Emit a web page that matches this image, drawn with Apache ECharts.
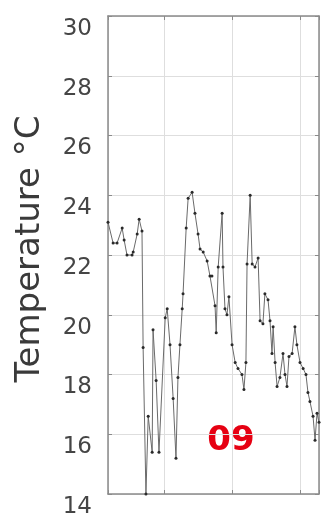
<!DOCTYPE html>
<html>
<head>
<meta charset="utf-8">
<script src="https://cdn.jsdelivr.net/npm/echarts@6/dist/echarts.min.js"></script>
<style>
html,body{margin:0;padding:0;background:#fff;}
#chart{width:333px;height:520px;}
</style>
</head>
<body>
<div id="chart"></div>
<script>
// Hours since 2009-09-01 00:00 (local) for each reading
const hours = [4.2, 6.0, 7.4, 9.2, 9.9, 10.9, 12.7, 13.1, 14.5, 15.2, 16.2, 16.6, 17.6, 18.4, 19.8, 20.1, 21.2, 22.2,
  24.4, 25.1, 26.1, 27.2, 28.2, 28.9, 29.6, 30.4, 30.7, 31.8, 32.5, 33.9, 34.9, 36.0, 36.7, 37.8, 39.2, 40.2, 40.9,
  42.0, 42.4, 43.1, 44.5, 44.8, 45.5, 46.2, 46.9, 48.0, 49.1, 50.1, 51.5, 52.2, 52.9, 53.3, 54.4, 55.1, 56.1, 57.2,
  57.9, 58.9, 59.6, 60.7, 61.4, 62.1, 62.5, 63.2, 63.9, 64.9, 66.0, 66.7, 67.4, 68.1, 69.2, 70.2, 70.9, 72.0, 73.1,
  74.1, 74.8, 75.5, 76.6, 77.3, 78.0, 78.7];
const temps = [23.1, 22.4, 22.4, 22.9, 22.5, 22.0, 22.0, 22.1, 22.7, 23.2, 22.8, 18.9, 14.0, 16.6, 15.4, 19.5, 17.8, 15.4,
  19.9, 20.2, 19.0, 17.2, 15.2, 17.9, 19.0, 20.2, 20.7, 22.9, 23.9, 24.1, 23.4, 22.7, 22.2, 22.1, 21.8, 21.3, 21.3,
  20.3, 19.4, 21.6, 23.4, 21.6, 20.2, 20.0, 20.6, 19.0, 18.4, 18.2, 18.0, 17.5, 18.4, 21.7, 24.0, 21.7, 21.6, 21.9,
  19.8, 19.7, 20.7, 20.5, 19.8, 18.7, 19.6, 18.4, 17.6, 17.9, 18.7, 18.0, 17.6, 18.6, 18.7, 19.6, 19.0, 18.4, 18.2,
  18.0, 17.4, 17.1, 16.6, 15.8, 16.7, 16.4];
const startDate = '2009-09-01T00:00:00';
const xRangeHours = [4.2, 78.7];
const yTicks = [14, 16, 18, 20, 22, 24, 26, 28, 30];
const yName = 'Temperature °C';
const tagText = '09';

const HOUR = 3600 * 1000;
const t0 = new Date(startDate).getTime();
const seriesData = hours.map((h, i) => [t0 + h * HOUR, temps[i]]);

const boxLine = {show: true, onZero: false, lineStyle: {color: '#8a8a8a', width: 1.5}};
const gridLine = {show: true, lineStyle: {color: '#dedede', width: 1}};

const chart = echarts.init(document.getElementById('chart'), null, {renderer: 'canvas'});
chart.setOption({
  backgroundColor: '#ffffff',
  animation: false,
  grid: {left: 108, right: 14, top: 16, bottom: 26, containLabel: false},
  xAxis: [{
    type: 'time', position: 'bottom',
    min: t0 + xRangeHours[0] * HOUR, max: t0 + xRangeHours[1] * HOUR,
    minInterval: 24 * HOUR, maxInterval: 24 * HOUR,
    axisLine: boxLine,
    axisTick: {show: true, inside: true, length: 4, lineStyle: {color: '#8a8a8a'}},
    minorTick: {show: false},
    axisLabel: {show: false},
    splitLine: gridLine
  }, {
    type: 'time', position: 'top',
    min: t0 + xRangeHours[0] * HOUR, max: t0 + xRangeHours[1] * HOUR,
    minInterval: 24 * HOUR, maxInterval: 24 * HOUR,
    axisLine: boxLine,
    axisTick: {show: true, inside: true, length: 4, lineStyle: {color: '#8a8a8a'}},
    axisLabel: {show: false},
    splitLine: {show: false}
  }],
  yAxis: [{
    type: 'value', position: 'left',
    min: yTicks[0], max: yTicks[yTicks.length - 1], interval: yTicks[1] - yTicks[0],
    axisLine: boxLine,
    axisTick: {show: true, inside: true, length: 4, lineStyle: {color: '#8a8a8a'}},
    axisLabel: {show: true, color: '#454545', fontSize: 23, fontFamily: 'DejaVu Sans', margin: 16,
      verticalAlign: 'top', lineHeight: 26},
    splitLine: gridLine,
    name: yName, nameLocation: 'middle', nameRotate: 90, nameGap: 61,
    nameTextStyle: {color: '#3a3a3a', fontSize: 34, fontFamily: 'DejaVu Sans', padding: [0, 0, 0, 12]}
  }, {
    type: 'value', position: 'right',
    min: yTicks[0], max: yTicks[yTicks.length - 1], interval: yTicks[1] - yTicks[0],
    axisLine: boxLine,
    axisTick: {show: true, inside: true, length: 4, lineStyle: {color: '#8a8a8a'}},
    axisLabel: {show: false},
    splitLine: {show: false}
  }],
  series: [{
    type: 'line',
    xAxisIndex: 0, yAxisIndex: 0,
    data: seriesData,
    showSymbol: true,
    symbol: 'circle', symbolSize: 3,
    itemStyle: {color: '#2a2a2a'},
    lineStyle: {color: '#6a6a6a', width: 1},
    z: 3
  }],
  graphic: [{
    type: 'text', x: 231, y: 441,
    style: {text: tagText, fill: '#e60012', font: 'bold 34px "DejaVu Sans"', textAlign: 'center', textVerticalAlign: 'middle'}
  }]
});
</script>
</body>
</html>
